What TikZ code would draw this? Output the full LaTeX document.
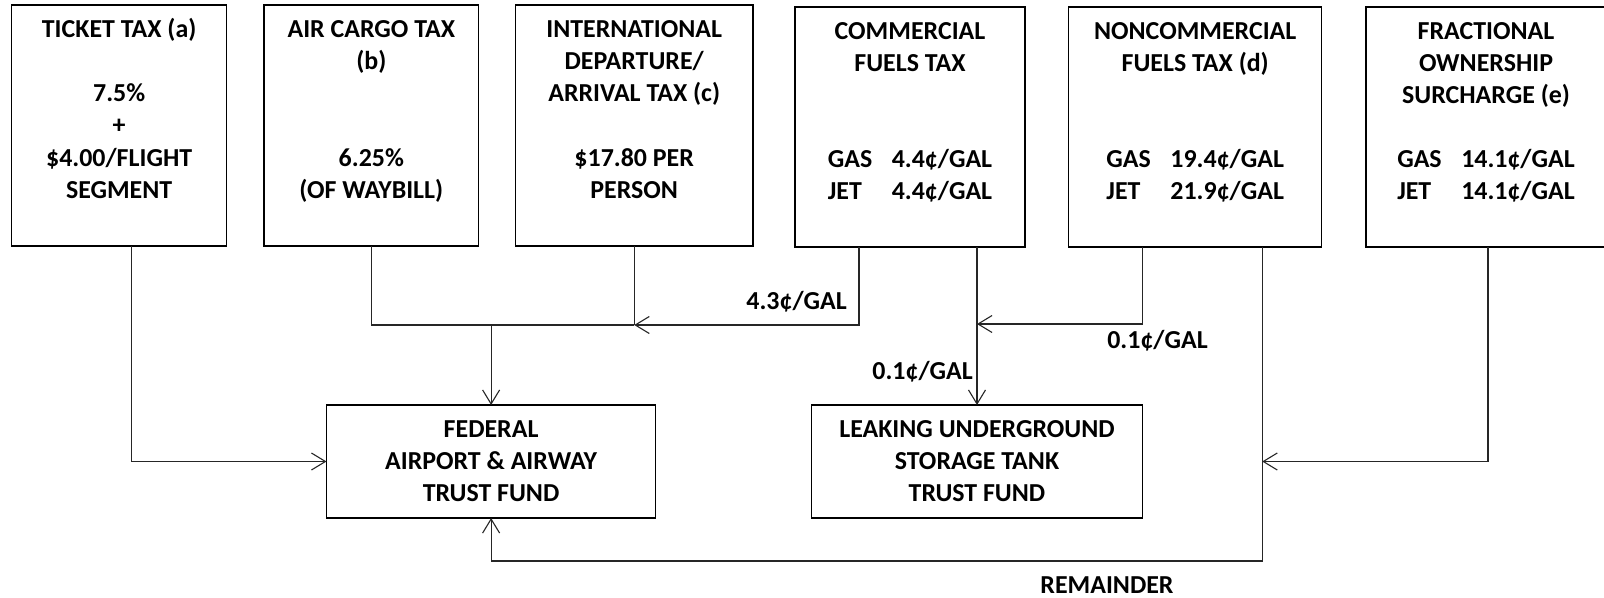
\documentclass[tikz,border=0pt]{standalone}
\usepackage{fontspec}
\setmainfont{Carlito}
\usetikzlibrary{arrows.meta}
\newcommand{\firstln}{\rule{0pt}{20bp}}
\newcommand{\rowlab}[1]{\makebox[64bp][l]{#1}}
\begin{document}
\begin{tikzpicture}[x=1bp,y=-1bp,
  box/.style={draw=black, line width=1.3bp, inner sep=0pt, outer sep=0pt},
  txt/.style={align=center, font=\fontsize{26}{32.2}\selectfont\bfseries, inner sep=0pt, anchor=north},
  lbl/.style={font=\fontsize{26}{32}\selectfont\bfseries, inner sep=0pt},
  conn/.style={draw=black!85, line width=1.1bp},
  arr/.style={conn, -{Straight Barb[length=14bp,width=17bp]}}]
\useasboundingbox (0,0) rectangle (1604,598);
\clip (0,0) rectangle (1604,598);
\fill[white] (0,0) rectangle (1604,598);

% top boxes
\node[box, minimum width=214.9bp, minimum height=241bp] (a) at (119.15,125.5) {};
\node[box, minimum width=214.6bp, minimum height=241bp] (b) at (371.3,125.5) {};
\node[box, minimum width=237.4bp, minimum height=241bp] (c) at (634.2,125.5) {};
\node[box, minimum width=230bp, minimum height=240bp] (d) at (910,127) {};
\node[box, minimum width=252.8bp, minimum height=240bp] (e) at (1195.2,127) {};
\node[box, minimum width=244bp, minimum height=240bp] (f) at (1488,127) {};

% funds
\node[box, minimum width=329.2bp, minimum height=113bp] (fed) at (491.1,461.5) {};
\node[box, minimum width=331.1bp, minimum height=113bp] (leak) at (977,461.5) {};

% texts
\node[txt] (at) at (119.15,17.4) {\firstln TICKET TAX (a)\\[32.2bp] 7.5\%\\ +\\ \$4.00/FLIGHT\\ SEGMENT};
\node[txt] (bt) at (371.3,17.4) {\firstln AIR CARGO TAX\\ (b)\\[64.4bp] 6.25\%\\ (OF WAYBILL)};
\node[txt] (ct) at (634.2,17.4) {\firstln INTERNATIONAL\\ DEPARTURE/\\ ARRIVAL TAX (c)\\[32.2bp] \$17.80 PER\\ PERSON};
\node[txt] (dt) at (910,19.4) {\firstln COMMERCIAL\\ FUELS TAX\\[64bp] \rowlab{GAS}4.4¢/GAL\\ \rowlab{JET}4.4¢/GAL};
\node[txt] (et) at (1195.2,19.4) {\firstln NONCOMMERCIAL\\ FUELS TAX (d)\\[64bp] \rowlab{GAS}19.4¢/GAL\\ \rowlab{JET}21.9¢/GAL};
\node[txt] (ft) at (1486,19.4) {\firstln FRACTIONAL\\ OWNERSHIP\\ SURCHARGE (e)\\[32bp] \rowlab{GAS}14.1¢/GAL\\ \rowlab{JET}14.1¢/GAL};
\node[txt, anchor=center] (fedt) at (fed.center) {FEDERAL\\ AIRPORT \& AIRWAY\\ TRUST FUND};
\node[txt, anchor=center] (leakt) at (leak.center) {LEAKING UNDERGROUND\\ STORAGE TANK\\ TRUST FUND};

% junction points
\coordinate (jc) at (c.south |- 0,325);
\coordinate (jl) at (leak.north |- 0,324);
\coordinate (rtop) at ([xshift=67bp]e.south);
\coordinate (rc) at (rtop |- 0,561);
\coordinate (rj) at (rtop |- leak.east);

% connectors
\draw[arr] ([xshift=12bp]a.south) |- (fed.west);
\draw[conn] (b.south) |- (jc);
\draw[conn] (c.south) -- (jc);
\draw[arr] ([xshift=-51bp]d.south) |- (jc);
\draw[arr] (fed.north |- jc) -- (fed.north);
\draw[arr] (leak.north |- d.south) -- (leak.north);
\draw[arr] ([xshift=-53bp]e.south) |- (jl);
\draw[arr] (rtop) -- (rc) -| (fed.south);
\draw[arr] (f.south) |- (rj);

% labels
\node[lbl, anchor=east] (l43) at (847,302) {4.3¢/GAL};
\node[lbl, anchor=east] (l01a) at (973,372) {0.1¢/GAL};
\node[lbl] (l01b) at (1157.5,341) {0.1¢/GAL};
\node[lbl] (rem) at (1107,585) {REMAINDER};
\end{tikzpicture}
\end{document}
